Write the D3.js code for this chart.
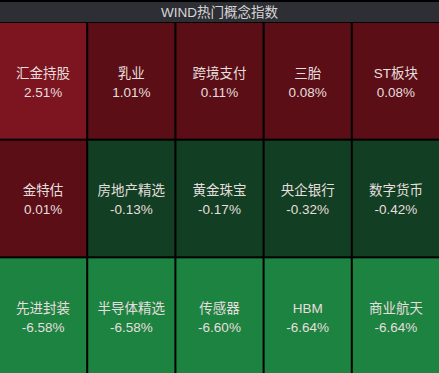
<!DOCTYPE html>
<html>
<head>
<meta charset="utf-8">
<script src="https://cdn.jsdelivr.net/npm/d3@7"></script>
<style>
  html, body { margin: 0; padding: 0; background: #000; }
  svg { display: block; }
  text { font-family: "Liberation Sans", "Noto Sans CJK SC", sans-serif; }
</style>
</head>
<body>
<svg class="heat" width="439" height="373"></svg>
<script>
var title = "WIND热门概念指数";
var names = ["汇金持股", "乳业", "跨境支付", "三胎", "ST板块",
             "金特估", "房地产精选", "黄金珠宝", "央企银行", "数字货币",
             "先进封装", "半导体精选", "传感器", "HBM", "商业航天"];
var changes = [2.51, 1.01, 0.11, 0.08, 0.08,
               0.01, -0.13, -0.17, -0.32, -0.42,
               -6.58, -6.58, -6.60, -6.64, -6.64];

var svg = d3.select("svg.heat"),
    width = +svg.attr("width"),
    height = +svg.attr("height"),
    titleH = 23,
    cols = 5,
    rows = 3;

var data = names.map(function(n, i) {
    return { name: n, value: changes[i], col: i % cols, row: Math.floor(i / cols) };
});

var x = d3.scaleBand().domain(d3.range(cols)).range([0, width]).paddingInner(2 / 88),
    y = d3.scaleBand().domain(d3.range(rows)).range([titleH, height + 1]).paddingInner(2 / 118);

// colour buckets like the terminal heatmap
var color = d3.scaleThreshold()
    .domain([-3, 0, 2])
    .range(["#1d8341", "#123f23", "#5b0e16", "#7c1520"]);

svg.append("rect")
    .attr("width", width)
    .attr("height", height)
    .attr("fill", "#000");

// title bar
svg.append("rect")
    .attr("y", 2)
    .attr("width", width)
    .attr("height", titleH - 3)
    .attr("fill", "#2e2f34");

svg.append("text")
    .attr("x", width / 2)
    .attr("y", 12)
    .attr("dy", "0.35em")
    .attr("text-anchor", "middle")
    .attr("fill", "#d6d6d8")
    .style("font-size", "13.5px")
    .text(title);

var cell = svg.selectAll("g.cell")
    .data(data)
    .enter().append("g")
    .attr("class", "cell")
    .attr("transform", function(d) {
        return "translate(" + x(d.col) + "," + y(d.row) + ")";
    });

cell.append("rect")
    .attr("width", x.bandwidth())
    .attr("height", y.bandwidth())
    .attr("fill", function(d) { return color(d.value); });

cell.append("text")
    .attr("x", x.bandwidth() / 2)
    .attr("y", y.bandwidth() / 2 - 8)
    .attr("dy", "0.35em")
    .attr("text-anchor", "middle")
    .attr("fill", "#e6dede")
    .style("font-size", "13.5px")
    .text(function(d) { return d.name; });

cell.append("text")
    .attr("x", x.bandwidth() / 2)
    .attr("y", y.bandwidth() / 2 + 11)
    .attr("dy", "0.35em")
    .attr("text-anchor", "middle")
    .attr("fill", "#e6dede")
    .style("font-size", "13.5px")
    .text(function(d) { return d.value.toFixed(2) + "%"; });
</script>
</body>
</html>
